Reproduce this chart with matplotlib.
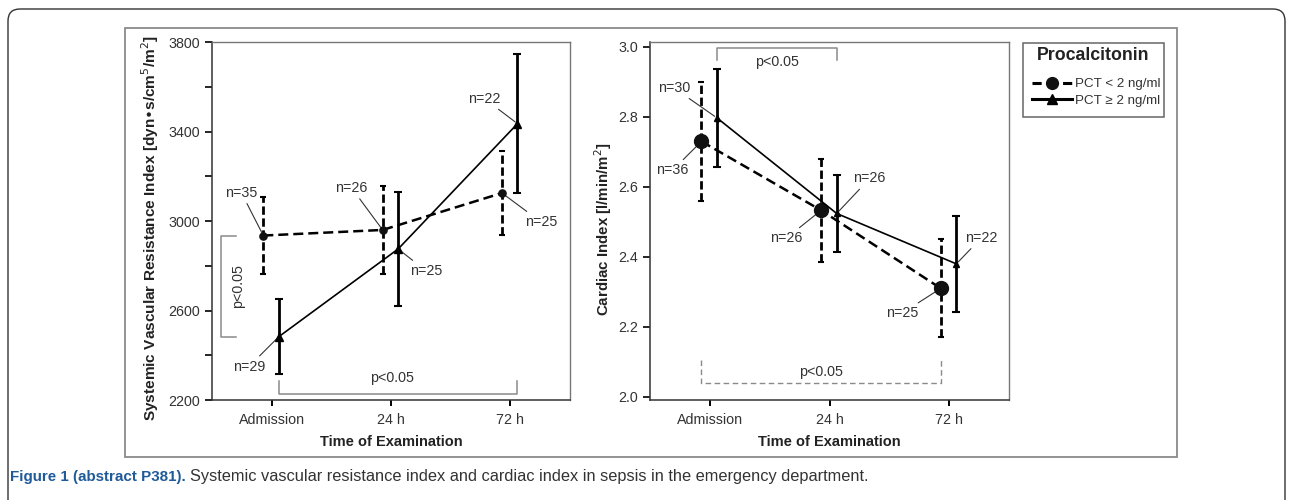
import matplotlib
matplotlib.use("Agg")
import matplotlib.pyplot as plt
import numpy as np
from matplotlib.lines import Line2D
from matplotlib.patches import FancyBboxPatch, Rectangle

times = ["Admission", "24 h", "72 h"]

# systemic vascular resistance index [dyn*s/cm5/m2]
svri_low = [2935, 2960, 3125]
svri_low_err = [172, 197, 188]
svri_low_n = [35, 26, 25]
svri_high = [2483, 2875, 3435]
svri_high_err = [167, 255, 310]
svri_high_n = [29, 25, 22]

# cardiac index [l/min/m2]
ci_low = [2.73, 2.533, 2.31]
ci_low_err = [0.17, 0.148, 0.14]
ci_low_n = [36, 26, 25]
ci_high = [2.797, 2.524, 2.38]
ci_high_err = [0.14, 0.111, 0.138]
ci_high_n = [30, 26, 22]

legend_title = "Procalcitonin"
legend_labels = ["PCT < 2 ng/ml", "PCT \u2265 2 ng/ml"]

FONT = ["Liberation Sans", "DejaVu Sans"]
plt.rcParams["font.family"] = FONT
plt.rcParams["font.size"] = 10.3

W, H = 1290, 500
fig = plt.figure(figsize=(W / 100, H / 100), dpi=100)

# decoration layer in pixel units
bg = fig.add_axes([0, 0, 1, 1], zorder=-5)
bg.set_xlim(0, W)
bg.set_ylim(0, H)
bg.axis("off")
bg.add_patch(FancyBboxPatch((8, -40), 1277, 531, boxstyle="round,pad=0,rounding_size=12",
                            facecolor="white", edgecolor="#333333", linewidth=1.0))
bg.add_patch(Rectangle((125, 43), 1052, 429, facecolor="none", edgecolor="#8a8a8a", linewidth=1.3))
bg.add_patch(Rectangle((1023, 383), 141, 74, facecolor="none", edgecolor="#666666", linewidth=1.1))

ax1 = fig.add_axes([212 / W, 0.2, 358 / W, 0.716])
ax2 = fig.add_axes([650 / W, 0.2, 359 / W, 0.716])

GREY = "#8a8a8a"
OFF_LOW, OFF_HIGH = -0.07, 0.06


def style_axes(ax):
    ax.set_xlim(-0.5, 2.5)
    ax.set_xticks(range(len(times)))
    ax.set_xticklabels(times)
    ax.tick_params(axis="y", direction="out", length=5, width=1.2, pad=3.5, colors="black",
                   labelcolor="#333333")
    ax.tick_params(axis="x", direction="out", length=4, width=1.4, pad=5, colors="black",
                   labelcolor="#333333")
    for side in ["left", "bottom"]:
        ax.spines[side].set_color("#333333")
        ax.spines[side].set_linewidth(1.1)
    for side in ["top", "right"]:
        ax.spines[side].set_color("#777777")
        ax.spines[side].set_linewidth(1.0)
    ax.set_xlabel("Time of Examination", fontweight="bold", fontsize=10.5, color="#222222")
    ax.xaxis.set_label_coords(0.5, -0.098)


def draw_series(ax, low, low_err, high, high_err, circle_size, tri_size):
    x = np.arange(len(times))
    xl = x + OFF_LOW
    xh = x + OFF_HIGH
    eb = ax.errorbar(xl, low, yerr=low_err, fmt="none", ecolor="black", elinewidth=2.0,
                     capsize=2.5, capthick=1.5, zorder=3)
    eb[2][0].set_linestyle((0, (3, 1.3)))
    ax.errorbar(xh, high, yerr=high_err, fmt="none", ecolor="black", elinewidth=2.0,
                capsize=3, capthick=1.5, zorder=3)
    ax.plot(xl, low, color="black", linestyle=(0, (4, 2)), linewidth=1.8, marker="o",
            markersize=circle_size, markerfacecolor="#111111", markeredgecolor="#111111", zorder=4)
    ax.plot(xh, high, color="black", linestyle="-", linewidth=1.2, marker="^",
            markersize=tri_size, markerfacecolor="black", markeredgecolor="black", zorder=4)


def n_label(ax, x, y, n, dx, dy):
    ax.annotate(f"n={n}", xy=(x, y), xytext=(dx * 0.72, dy * 0.72), textcoords="offset points",
                ha="center", va="center", color="#333333",
                arrowprops=dict(arrowstyle="-", color="#333333", linewidth=0.8,
                                shrinkA=1, shrinkB=2))


xs = np.arange(len(times))

# left panel: SVRI
style_axes(ax1)
ax1.set_ylim(2200, 3800)
ax1.set_yticks(np.arange(2200, 3801, 400))
ax1.set_yticks(np.arange(2400, 3801, 400), minor=True)
ax1.tick_params(axis="y", which="minor", length=5, width=1.2)
ax1.set_ylabel("Systemic Vascular Resistance Index [dyn\u2022s/cm$^5$/m$^2$]",
               fontweight="bold", fontsize=11.1, color="#222222")
ax1.yaxis.set_label_coords(-0.1425, 0.479)
draw_series(ax1, svri_low, svri_low_err, svri_high, svri_high_err, 5.2, 5.2)

lab_low = [(-22, 43), (-31, 42), (39, -29)]
lab_high = [(-30, -30), (28, -22), (-33, 25)]
for i in range(len(times)):
    n_label(ax1, xs[i] + OFF_LOW, svri_low[i], svri_low_n[i], *lab_low[i])
    n_label(ax1, xs[i] + OFF_HIGH, svri_high[i], svri_high_n[i], *lab_high[i])

# brackets (left)
bx = -0.425
ax1.plot([bx + 0.125, bx, bx, bx + 0.125], [svri_low[0], svri_low[0], svri_high[0], svri_high[0]],
         color=GREY, linewidth=1.1)
ax1.text(bx + 0.14, (svri_low[0] + svri_high[0]) / 2, "p<0.05", rotation=90, ha="center",
         va="center", color="#333333")
by = 2227
ax1.plot([xs[0] + OFF_HIGH, xs[0] + OFF_HIGH, xs[2] + OFF_HIGH, xs[2] + OFF_HIGH],
         [by + 58, by, by, by + 58], color=GREY, linewidth=1.1)
ax1.text((xs[0] + xs[2]) / 2 + OFF_HIGH - 0.05, by + 42, "p<0.05", ha="center", va="bottom",
         color="#333333")

# right panel: cardiac index
style_axes(ax2)
ax2.set_ylim(1.991, 3.014)
ax2.set_yticks(np.arange(2.0, 3.01, 0.2))
ax2.set_yticklabels([f"{v:.1f}" for v in np.arange(2.0, 3.01, 0.2)])
ax2.set_ylabel("Cardiac Index [l/min/m$^2$]", fontweight="bold", fontsize=10.8, color="#222222")
ax2.yaxis.set_label_coords(-0.1006, 0.476)
draw_series(ax2, ci_low, ci_low_err, ci_high, ci_high_err, 10, 5)

lab_low = [(-29, -29), (-35, -28), (-39, -25)]
lab_high = [(-43, 30), (33, 35), (25, 26)]
for i in range(len(times)):
    n_label(ax2, xs[i] + OFF_LOW, ci_low[i], ci_low_n[i], *lab_low[i])
    n_label(ax2, xs[i] + OFF_HIGH, ci_high[i], ci_high_n[i], *lab_high[i])

ty = 2.997
ax2.plot([xs[0] + OFF_HIGH, xs[0] + OFF_HIGH, xs[1] + OFF_HIGH, xs[1] + OFF_HIGH],
         [ty - 0.034, ty, ty, ty - 0.034], color=GREY, linewidth=1.1)
ax2.text((xs[0] + xs[1]) / 2 + OFF_HIGH, ty - 0.02, "p<0.05", ha="center", va="top",
         color="#333333")
ly = 2.04
ax2.plot([xs[0] + OFF_LOW, xs[0] + OFF_LOW, xs[2] + OFF_LOW, xs[2] + OFF_LOW],
         [ly + 0.065, ly, ly, ly + 0.065], color=GREY, linewidth=1.0, linestyle=(0, (4, 2.5)))
ax2.text((xs[0] + xs[2]) / 2 + OFF_LOW, ly + 0.012, "p<0.05", ha="center", va="bottom",
         color="#333333")

# legend
fig.text(1093 / W, 1 - 55 / H, legend_title, fontweight="bold", fontsize=12.8, color="#222222",
         ha="center", va="center")
handles = [
    Line2D([], [], color="black", linestyle=(0, (3, 2)), linewidth=2.2, marker="o", markersize=8.5,
           markerfacecolor="#111111", markeredgecolor="#111111"),
    Line2D([], [], color="black", linestyle="-", linewidth=2.2, marker="^", markersize=7,
           markerfacecolor="black", markeredgecolor="black"),
]
leg = fig.legend(handles, legend_labels, loc="upper left", bbox_to_anchor=(1032 / W, 1 - 78 / H),
                 frameon=False, fontsize=9.6, handlelength=3.0, handletextpad=0.25,
                 borderpad=0, labelspacing=0.3, borderaxespad=0)
for t in leg.get_texts():
    t.set_color("#333333")

# caption
cap_font = ["Liberation Sans", "DejaVu Sans"]
t1 = fig.text(10 / W, 1 - 477 / H, "Figure 1 (abstract P381).", family=cap_font,
              fontweight="bold", fontsize=10.9, color="#1f5a99", va="center", ha="left")
fig.canvas.draw()
bb = t1.get_window_extent()
fig.text(bb.x1 / W + 4 / W, 1 - 477 / H,
         "Systemic vascular resistance index and cardiac index in sepsis in the emergency department.",
         family=cap_font, fontsize=11.8, color="#333333", va="center", ha="left")

fig.savefig("out.png", dpi=100)
